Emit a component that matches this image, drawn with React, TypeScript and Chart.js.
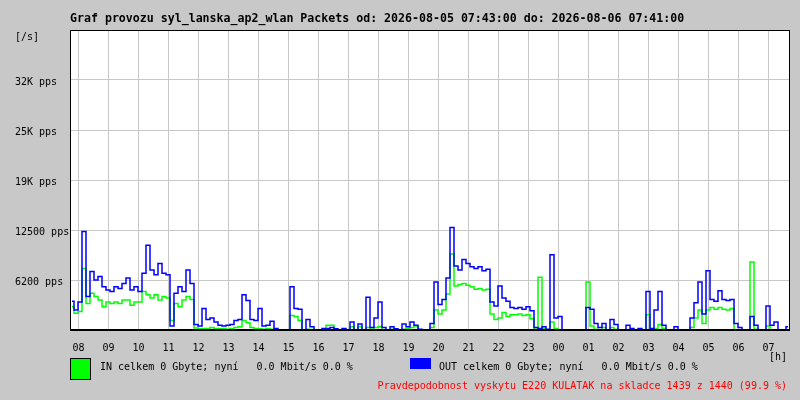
import React, { useEffect, useRef } from "react";
import { Chart, registerables } from "chart.js";

Chart.register(...registerables);

// 8-minute bins from 07:43 (05.08.2026) to 07:41 (06.08.2026)
const binMinutes = 8;
const firstHourMinute = 17; // 08:00 is 17 minutes after 07:43
const hourLabels = ["08", "09", "10", "11", "12", "13", "14", "15", "16", "17", "18", "19", "20", "21", "22", "23", "00", "01", "02", "03", "04", "05", "06", "07"];
const yTickValues = [0, 6250, 12500, 18750, 25000, 31250, 37500];
const yTickLabels = ["", "6200 pps", "12500 pps", "19K pps", "25K pps", "32K pps", ""];

const outValues = [
  3600, 2500, 3500, 12300, 4200, 7300, 6250, 6700, 5400, 5000,
  4800, 5400, 5200, 5800, 6500, 5000, 5400, 4800, 7100, 10600,
  7500, 6900, 8300, 7100, 6900, 500, 4600, 5400, 4800, 7500,
  5800, 700, 500, 2700, 1300, 1500, 1000, 600, 500, 600,
  700, 1200, 1300, 4400, 3700, 1300, 1200, 2700, 500, 600,
  1100, 200, 0, 0, 0, 5400, 2700, 2600, 0, 1300,
  400, 0, 0, 200, 200, 300, 150, 0, 200, 0,
  1000, 0, 750, 0, 4100, 300, 1500, 3500, 300, 0,
  400, 150, 0, 750, 400, 1000, 600, 100, 0, 0,
  800, 6000, 3200, 3800, 6500, 12800, 8000, 7500, 8800, 8300,
  7900, 7700, 7900, 7400, 7600, 3500, 3000, 5500, 4000, 3600,
  2800, 2700, 2800, 2600, 2900, 2400, 300, 200, 400, 100,
  9400, 1500, 1700, 0, 0, 0, 0, 0, 0, 2800,
  2600, 800, 300, 800, 0, 1300, 700, 0, 0, 600,
  200, 0, 200, 0, 4800, 200, 2500, 4800, 600, 0,
  0, 400, 0, 0, 0, 1500, 3400, 6000, 2000, 7400,
  3800, 3600, 4900, 3800, 3700, 3800, 800, 300, 0, 0,
  1700, 600, 0, 0, 3000, 600, 1000, 0, 0, 400,
];

const inValues = [
  2900, 2100, 2300, 7700, 3300, 4600, 4200, 3750, 2900, 3500,
  3300, 3500, 3300, 3750, 3750, 3100, 3500, 3500, 4800, 4400,
  4000, 4400, 3750, 4200, 4000, 1200, 3300, 2900, 3750, 4200,
  3800, 250, 150, 200, 200, 300, 200, 150, 200, 100,
  200, 300, 400, 1200, 900, 300, 200, 150, 100, 200,
  100, 0, 0, 0, 0, 1800, 1700, 1200, 0, 100,
  50, 0, 0, 0, 600, 600, 0, 0, 50, 0,
  400, 0, 400, 0, 300, 100, 300, 400, 0, 0,
  100, 0, 0, 100, 200, 300, 500, 0, 0, 0,
  300, 2500, 2000, 2500, 4500, 9500, 5500, 5700, 5800, 5600,
  5400, 5100, 5200, 5000, 5100, 2000, 1300, 1500, 2200, 1700,
  1900, 1900, 2000, 1800, 1900, 1400, 100, 6600, 200, 0,
  1000, 200, 0, 0, 0, 0, 0, 0, 0, 6000,
  500, 100, 0, 300, 0, 300, 100, 0, 0, 0,
  0, 0, 0, 0, 1900, 0, 200, 700, 200, 0,
  0, 0, 0, 0, 0, 300, 1500, 2500, 800, 2500,
  2800, 2600, 2800, 2600, 2500, 2700, 0, 0, 0, 0,
  8500, 100, 0, 0, 500, 0, 0, 0, 0, 0,
];

const titleText = "Graf provozu syl_lanska_ap2_wlan Packets od: 2026-08-05 07:43:00 do: 2026-08-06 07:41:00";
const inLegend = "IN celkem 0 Gbyte; nyní   0.0 Mbit/s 0.0 %";
const outLegend = "OUT celkem 0 Gbyte; nyní   0.0 Mbit/s 0.0 %";
const noteText = "Pravdepodobnost vyskytu E220 KULATAK na skladce 1439 z 1440 (99.9 %)";

const MONO = "'DejaVu Sans Mono', monospace";
const BG = "#c8c8c8";

const toPoints = (arr: number[]) => arr.map((v, i) => ({ x: i * binMinutes + binMinutes / 2, y: v }));

const decorPlugin = {
  id: "decor",
  beforeDraw(chart: any) {
    const { ctx, chartArea: a } = chart;
    ctx.save();
    ctx.fillStyle = BG;
    ctx.fillRect(0, 0, chart.width, chart.height);
    ctx.fillStyle = "#ffffff";
    ctx.fillRect(a.left, a.top, a.right - a.left, a.bottom - a.top);
    ctx.restore();
  },
  afterDraw(chart: any) {
    const { ctx, chartArea: a } = chart;
    ctx.save();
    ctx.strokeStyle = "#000000";
    ctx.lineWidth = 1;
    ctx.strokeRect(a.left + 0.5, a.top + 0.5, a.right - a.left - 1, a.bottom - a.top);
    ctx.fillStyle = "#000000";
    ctx.fillRect(a.left, a.bottom - 1, a.right - a.left, 2);

    ctx.textBaseline = "middle";
    ctx.fillStyle = "#000000";
    ctx.font = `bold 11.6px ${MONO}`;
    ctx.textAlign = "left";
    ctx.fillText(titleText, 70, 19);

    ctx.font = `10px ${MONO}`;
    ctx.fillText("[/s]", 15, 37);
    ctx.textAlign = "right";
    ctx.fillText("[h]", 787, 357);

    // legend
    ctx.fillStyle = "#00ff00";
    ctx.fillRect(70, 358, 21, 22);
    ctx.strokeStyle = "#000000";
    ctx.strokeRect(70.5, 358.5, 20, 21);
    ctx.fillStyle = "#0000ff";
    ctx.fillRect(410, 358, 21, 11);

    ctx.fillStyle = "#000000";
    ctx.textAlign = "left";
    ctx.fillText(inLegend, 100, 367);
    ctx.fillText(outLegend, 439, 367);

    ctx.fillStyle = "#ff0000";
    ctx.textAlign = "right";
    ctx.fillText(noteText, 787, 386);
    ctx.restore();
  },
};

export default function App() {
  const ref = useRef<HTMLCanvasElement | null>(null);
  useEffect(() => {
    if (!ref.current) return;
    const chart = new Chart(ref.current, {
      type: "line",
      data: {
        datasets: [
          {
            label: "OUT",
            data: toPoints(outValues),
            borderColor: "#0000ff",
            borderWidth: 1.5,
            pointRadius: 0,
            stepped: "middle",
            fill: false,
            order: 1,
          },
          {
            label: "IN",
            data: toPoints(inValues),
            borderColor: "#00ff00",
            borderWidth: 1.5,
            pointRadius: 0,
            stepped: "middle",
            fill: false,
            order: 2,
          },
        ],
      },
      options: {
        animation: false,
        responsive: false,
        devicePixelRatio: 1,
        layout: { padding: { left: 15, top: 30, right: 10, bottom: 0 } },
        plugins: { legend: { display: false }, tooltip: { enabled: false }, title: { display: false } },
        scales: {
          x: {
            type: "linear",
            min: 0,
            max: 1440,
            afterBuildTicks: (scale: any) => {
              scale.ticks = hourLabels.map((_, i) => ({ value: firstHourMinute + 60 * i }));
            },
            afterFit: (scale: any) => {
              scale.height = 70;
            },
            ticks: {
              autoSkip: false,
              maxRotation: 0,
              padding: 12,
              color: "#000000",
              font: { family: MONO, size: 10 },
              callback: (_v: any, i: number) => hourLabels[i],
            },
            grid: { color: BG, drawTicks: false, lineWidth: 1 },
            border: { display: false },
          },
          y: {
            min: 0,
            max: 37500,
            afterBuildTicks: (scale: any) => {
              scale.ticks = yTickValues.map((v) => ({ value: v }));
            },
            afterFit: (scale: any) => {
              scale.width = 55;
            },
            ticks: {
              crossAlign: "far",
              padding: 0,
              labelOffset: 2,
              color: "#000000",
              font: { family: MONO, size: 10 },
              callback: (_v: any, i: number) => yTickLabels[i],
            },
            grid: { color: BG, drawTicks: false, lineWidth: 1 },
            border: { display: false },
          },
        },
      },
      plugins: [decorPlugin],
    } as any);
    return () => chart.destroy();
  }, []);
  return (
    <div style={{ position: "absolute", left: 0, top: 0, width: 800, height: 400, background: BG }}>
      <canvas ref={ref} width={800} height={400} style={{ display: "block" }} />
    </div>
  );
}
